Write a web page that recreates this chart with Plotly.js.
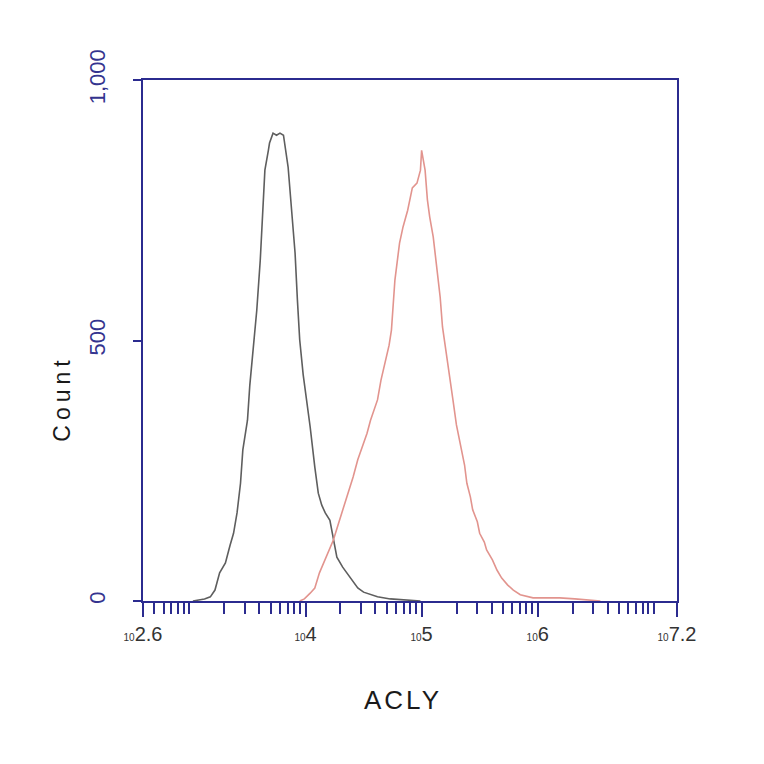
<!DOCTYPE html>
<html>
<head>
<meta charset="utf-8">
<script src="https://cdn.plot.ly/plotly-3.0.1.min.js"></script>
<style>html,body{margin:0;padding:0;background:#fff;}#chart{width:764px;height:764px;}</style>
</head>
<body>
<div id="chart"></div>
<script>
// Isotype control (gray) — log10 fluorescence and counts
const controlLog = [3.03,3.13,3.18,3.22,3.26,3.31,3.35,3.38,3.41,3.44,3.46,3.50,3.52,3.56,3.58,3.61,3.63,3.65,3.68,3.69,3.72,3.75,3.78,3.81,3.85,3.88,3.91,3.93,3.95,3.98,4.01,4.04,4.08,4.11,4.14,4.17,4.21,4.24,4.27,4.32,4.37,4.41,4.45,4.50,4.56,4.62,4.73,4.90,4.99];
const controlCount = [0,4,8,21,54,73,107,130,169,226,290,347,414,501,558,654,731,827,865,879,898,894,898,894,833,756,668,578,501,434,386,334,257,207,184,169,155,117,84,65,50,36,25,17,12,8,4,2,0];
// ACLY stained (red)
const aclyLog = [3.95,3.99,4.04,4.08,4.12,4.18,4.24,4.28,4.32,4.37,4.41,4.45,4.50,4.53,4.56,4.62,4.65,4.68,4.72,4.74,4.77,4.81,4.84,4.88,4.92,4.96,4.99,5.00,5.03,5.05,5.07,5.10,5.13,5.16,5.18,5.23,5.27,5.30,5.33,5.37,5.39,5.42,5.44,5.48,5.50,5.54,5.56,5.61,5.65,5.69,5.74,5.79,5.85,5.91,5.96,6.06,6.19,6.32,6.45,6.54];
const aclyCount = [0,4,15,25,54,84,117,146,175,207,238,271,303,322,347,386,424,453,491,520,616,687,718,750,793,802,827,865,827,770,737,699,635,583,526,453,386,338,303,261,226,200,175,152,130,113,98,79,59,44,31,21,12,8,6,6,6,4,2,0];

const xTickExp = [2.6, 4, 5, 6, 7.2];
const xTickText = ["2.6", "4", "5", "6", "7.2"];
const yTickVals = [0, 500, 1000];
const yTickText = ["0", "500", "1,000"];
const xTitle = "ACLY";
const yTitle = "Count";

const toLin = a => a.map(v => Math.pow(10, v));
const navy = '#2b2b8f';

const traces = [
  {x: toLin(controlLog), y: controlCount, type: 'scatter', mode: 'lines',
   line: {color: '#5e5e5e', width: 1.6}, name: 'Control', hoverinfo: 'skip'},
  {x: toLin(aclyLog), y: aclyCount, type: 'scatter', mode: 'lines',
   line: {color: '#e2948e', width: 1.6}, name: 'ACLY', hoverinfo: 'skip'}
];

const layout = {
  width: 764, height: 764,
  margin: {l: 143, r: 87, t: 80, b: 163},
  paper_bgcolor: '#fff', plot_bgcolor: '#fff',
  showlegend: false,
  font: {family: 'Liberation Sans, Arial, sans-serif', color: '#222'},
  xaxis: {
    type: 'log', range: [2.6, 7.2], autorange: false,
    showline: true, linecolor: navy, linewidth: 2, mirror: true,
    showgrid: false, zeroline: false,
    tickmode: 'array',
    tickvals: toLin(xTickExp),
    ticktext: xTickText.map(t => '<span style="font-size:10px">10</span>' + t),
    ticks: 'outside', ticklen: 14, tickwidth: 2, tickcolor: navy,
    tickfont: {size: 20, color: '#333'},
    minor: {ticks: 'outside', ticklen: 11, tickwidth: 2, tickcolor: navy, dtick: 'D1', showgrid: false},
    automargin: false
  },
  yaxis: {
    range: [0, 1000], autorange: false,
    showline: true, linecolor: navy, linewidth: 2, mirror: true,
    showgrid: false, zeroline: false,
    tickmode: 'array', tickvals: yTickVals, ticktext: yTickText,
    tickangle: -90,
    ticks: 'outside', ticklen: 8, tickwidth: 2, tickcolor: navy,
    ticklabelstandoff: 19,
    tickfont: {size: 22, color: '#34348f'},
    automargin: false
  },
  annotations: [
    {text: '<span style="letter-spacing:3px">' + xTitle + '</span>', xref: 'paper', yref: 'paper',
     x: 0.487, y: -0.19, xanchor: 'center', yanchor: 'middle', showarrow: false,
     font: {size: 26, color: '#1a1a1a'}},
    {text: '<span style="letter-spacing:5px">' + yTitle + '</span>', xref: 'paper', yref: 'paper',
     x: -0.152, y: 0.388, xanchor: 'center', yanchor: 'middle', showarrow: false, textangle: -90,
     font: {size: 23, color: '#1a1a1a'}}
  ]
};

Plotly.newPlot('chart', traces, layout, {displayModeBar: false, staticPlot: true});
</script>
</body>
</html>
